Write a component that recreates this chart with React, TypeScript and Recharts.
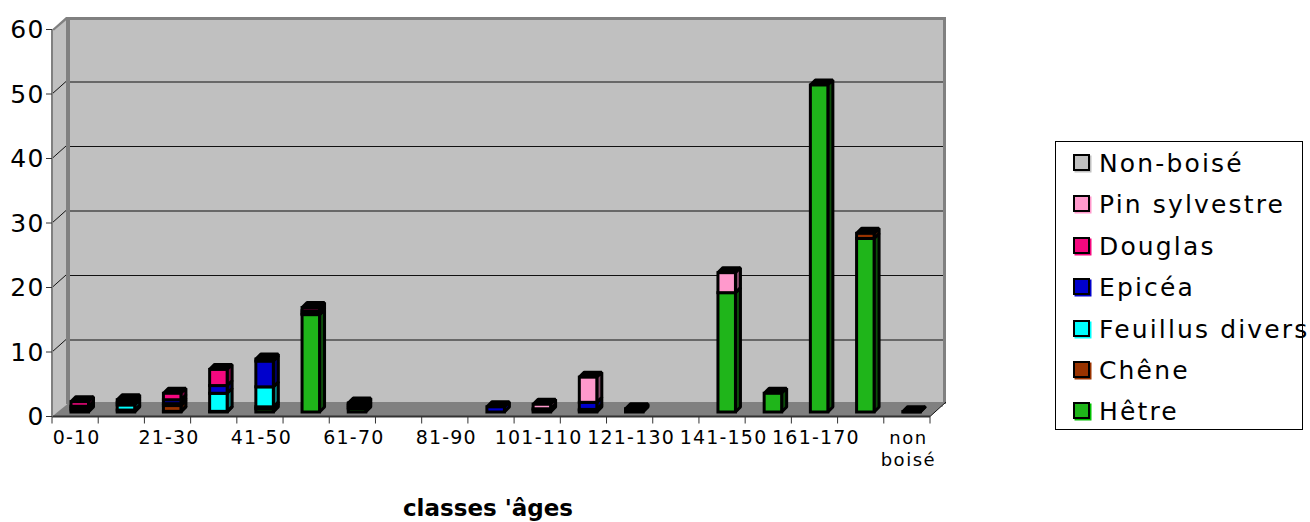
import { BarChart, Bar, XAxis, YAxis, Customized } from "recharts";

const categories = [
  "0-10", "11-20", "21-30", "31-40", "41-50", "51-60", "61-70", "71-80", "81-90", "91-100",
  "101-110", "111-120", "121-130", "131-140", "141-150", "151-160", "161-170", "171-180", "non boisé",
];

// bottom of the stack first
const hetre = [0.3, 0.3, 0.1, 0.1, 0.5, 15.1, 0.5, 0, 0, 0, 0, 0.2, 0, 0, 18.5, 2.9, 50.7, 26.9, 0];
const chene = [0, 0, 0.9, 0, 0.3, 0, 0.2, 0, 0, 0, 0.3, 0, 0, 0, 0, 0, 0, 0.8, 0];
const feuillus = [0.3, 0.8, 0.3, 2.8, 3.1, 0.2, 0.3, 0, 0, 0, 0, 0.2, 0, 0, 0, 0, 0, 0, 0];
const epicea = [0.3, 0.4, 0.6, 1.2, 4, 0.4, 0.2, 0, 0, 0.8, 0.2, 1.1, 0, 0, 0, 0, 0, 0, 0];
const douglas = [0.7, 0.4, 1, 2.5, 0.3, 0.5, 0.2, 0, 0, 0, 0, 0, 0.25, 0, 0, 0, 0, 0, 0];
const pin = [0, 0, 0, 0, 0, 0, 0, 0, 0, 0, 0.7, 3.9, 0.25, 0, 3.1, 0, 0, 0, 0];
const nonBoise = [0, 0, 0, 0, 0, 0, 0, 0, 0, 0, 0, 0, 0, 0, 0, 0, 0, 0, 0.05];

const yTicks = [0, 10, 20, 30, 40, 50, 60];

const data = categories.map((name, i) => ({
  name,
  hetre: hetre[i],
  chene: chene[i],
  feuillus: feuillus[i],
  epicea: epicea[i],
  douglas: douglas[i],
  pin: pin[i],
  nonBoise: nonBoise[i],
}));

const series = [
  { key: "hetre", label: "Hêtre", color: "#1fb51a", side: "#0c4d0a", shadow: "#00c000" },
  { key: "chene", label: "Chêne", color: "#993300", side: "#4a1900", shadow: "#993300" },
  { key: "feuillus", label: "Feuillus divers", color: "#00ffff", side: "#067a7a", shadow: "#00ffff" },
  { key: "epicea", label: "Epicéa", color: "#0000cc", side: "#000066", shadow: "#0000cc" },
  { key: "douglas", label: "Douglas", color: "#f5087f", side: "#7a0440", shadow: "#f5087f" },
  { key: "pin", label: "Pin sylvestre", color: "#ff99cc", side: "#7d4a64", shadow: "#ff99cc" },
  { key: "nonBoise", label: "Non-boisé", color: "#c0c0c0", side: "#606060", shadow: "#c0c0c0" },
];

const FONT = "'DejaVu Sans', sans-serif";

const LEFT = 52;
const RIGHT = 930;
const TOP = 29.5;
const BOTTOM = 416.5;
const DEPTH_X = 16;
const DEPTH_Y = 12.5;
const yAt = (v: number) => BOTTOM - (v / 60) * (BOTTOM - TOP);

// walls, floor and the tick marks between categories
const Walls = () => {
  const band = (RIGHT - LEFT) / categories.length;
  return (
    <g>
      <polygon
        points={`${LEFT},${TOP} ${LEFT + 18},${TOP - DEPTH_Y} ${LEFT + 18},${BOTTOM - DEPTH_Y} ${LEFT},${BOTTOM}`}
        fill="#c0c0c0"
      />
      <rect x={LEFT + 14} y={TOP - DEPTH_Y} width={RIGHT + DEPTH_X - LEFT - 14} height={BOTTOM - TOP} fill="#808080" />
      <rect x={LEFT + 18} y={TOP - DEPTH_Y + 3} width={RIGHT + DEPTH_X - LEFT - 21} height={BOTTOM - TOP} fill="#c0c0c0" />
      <polygon points={`${LEFT},${TOP} ${LEFT + 14},${TOP - DEPTH_Y} ${LEFT + 18},${TOP - DEPTH_Y} ${LEFT + 2},${TOP + 1}`} fill="#808080" />
      {yTicks.slice(1, -1).map((v) => (
        <g key={v}>
          <line x1={LEFT + 18} x2={RIGHT + DEPTH_X - 3} y1={yAt(v) - DEPTH_Y + 0.5} y2={yAt(v) - DEPTH_Y + 0.5} stroke="#111" />
          <line x1={LEFT} x2={LEFT + 14} y1={yAt(v)} y2={yAt(v) - DEPTH_Y} stroke="#111" />
        </g>
      ))}
      <polygon
        points={`${LEFT},${BOTTOM} ${RIGHT},${BOTTOM} ${RIGHT + DEPTH_X},${BOTTOM - DEPTH_Y - 2} ${LEFT + 18},${BOTTOM - DEPTH_Y - 2}`}
        fill="#808080"
      />
      <line x1={RIGHT} x2={RIGHT + DEPTH_X} y1={BOTTOM} y2={BOTTOM - DEPTH_Y - 2} stroke="#111" />
      {categories.map((_, i) => (
        <line key={i} x1={LEFT + i * band} x2={LEFT + i * band} y1={BOTTOM} y2={BOTTOM + 7} stroke="#333" />
      ))}
      <line x1={RIGHT} x2={RIGHT} y1={BOTTOM} y2={BOTTOM + 7} stroke="#333" />
    </g>
  );
};

const Box3D = (props: any) => {
  const { x, y, width, height, color, side } = props;
  if (!height || height <= 0) return null;
  const dx = 5;
  const dy = 5;
  const left = x + 5;
  const top = y - 4.5;
  const right = left + width;
  const bottom = top + height;
  return (
    <g stroke="#000" strokeWidth={3} strokeLinejoin="bevel">
      <polygon points={`${left},${top} ${right},${top} ${right + dx},${top - dy} ${left + dx},${top - dy}`} fill="#000" />
      <polygon points={`${right},${top} ${right + dx},${top - dy} ${right + dx},${bottom - dy} ${right},${bottom}`} fill={side} />
      <rect x={left} y={top} width={width} height={height} fill={color} strokeLinejoin="miter" />
    </g>
  );
};

const XTick = (props: any) => {
  const { x, y, payload } = props;
  const isNon = payload.value === "non boisé";
  const words = isNon ? ["non", "boisé"] : [payload.value];
  return (
    <text x={x + 1.5} y={y} textAnchor="middle" fontFamily={FONT} fontSize={isNon ? 18 : 19} letterSpacing={isNon ? 1.5 : 1.2} fill="#000">
      {words.map((w: string, i: number) => (
        <tspan key={w} x={x + 1.5} dy={i === 0 ? 19 : 22}>
          {w}
        </tspan>
      ))}
    </text>
  );
};

const LegendBox = () => (
  <div
    style={{
      position: "absolute",
      left: 1055,
      top: 141,
      width: 246,
      height: 287,
      border: "1.5px solid #000",
      background: "#fff",
      fontFamily: FONT,
      fontSize: 25,
      letterSpacing: 2.15,
      color: "#000",
    }}
  >
    {[...series].reverse().map((s, i) => (
      <div key={s.key} style={{ position: "absolute", left: 0, top: 2 + i * 41.4, height: 40, whiteSpace: "nowrap" }}>
        <span
          style={{
            position: "absolute",
            left: 17,
            top: 10,
            width: 13,
            height: 13,
            border: "2.5px solid #000",
            background: s.color,
            boxShadow: `1.5px 1.5px 0 ${s.shadow}`,
          }}
        />
        <span style={{ position: "absolute", left: 43, top: 2, lineHeight: "36px" }}>{s.label}</span>
      </div>
    ))}
  </div>
);

export default function App() {
  return (
    <div style={{ position: "absolute", left: 0, top: 0, width: 1310, height: 522 }}>
      <BarChart
        width={1310}
        height={522}
        data={data}
        margin={{ top: TOP, right: 1310 - RIGHT, bottom: 0, left: 0 }}
        barSize={17.5}
      >
        <Customized component={Walls} />
        <XAxis
          dataKey="name"
          interval={1}
          height={522 - BOTTOM}
          tickLine={false}
          axisLine={{ stroke: "#333", strokeWidth: 2 }}
          tick={<XTick />}
          label={{
            value: "classes 'âges",
            position: "insideBottom",
            offset: 6,
            dx: -3,
            style: { fontFamily: FONT, fontSize: 23, fontWeight: 700, fill: "#000" },
          }}
        />
        <YAxis
          width={LEFT}
          domain={[0, 60]}
          ticks={yTicks}
          tickSize={6}
          tickMargin={1}
          axisLine={{ stroke: "#808080", strokeWidth: 2 }}
          tickLine={{ stroke: "#333" }}
          tick={{ fontFamily: FONT, fontSize: 25, letterSpacing: 1.5, fill: "#000" }}
        />
        {series.map((s) => (
          <Bar
            key={s.key}
            dataKey={s.key}
            stackId="a"
            isAnimationActive={false}
            shape={(p: any) => <Box3D {...p} color={s.color} side={s.side} />}
          />
        ))}
      </BarChart>
      <LegendBox />
    </div>
  );
}
